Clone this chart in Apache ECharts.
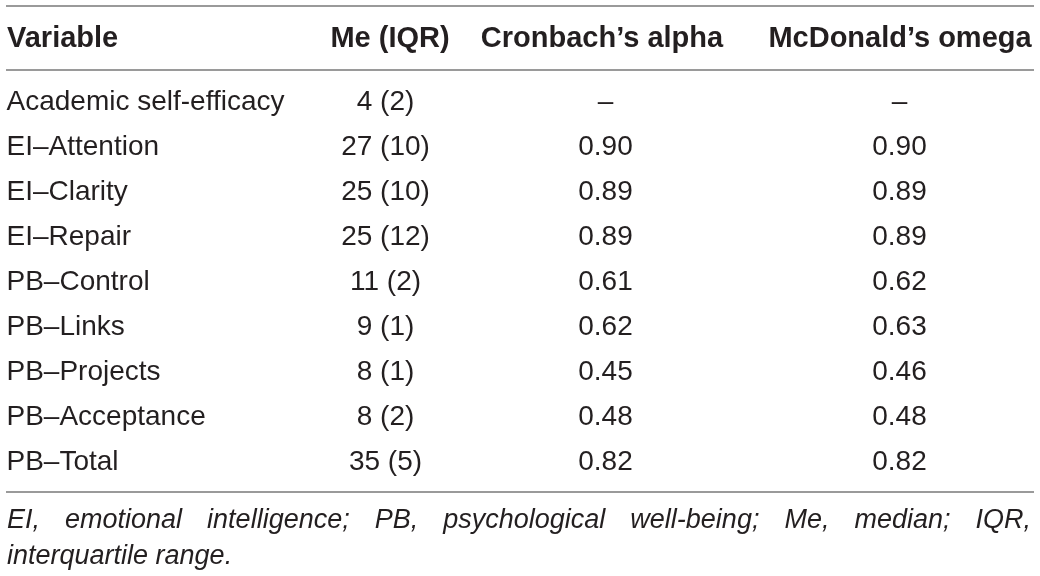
<!DOCTYPE html>
<html>
<head>
<meta charset="utf-8">
<script src="https://cdn.jsdelivr.net/npm/echarts@6/dist/echarts.min.js"></script>
<style>
  html, body { margin: 0; padding: 0; background: #fff; }
  #main { width: 1040px; height: 576px; }
</style>
</head>
<body>
<div id="main"></div>
<script>
// table content
const variables = ['Academic self-efficacy', 'EI\u2013Attention', 'EI\u2013Clarity', 'EI\u2013Repair',
  'PB\u2013Control', 'PB\u2013Links', 'PB\u2013Projects', 'PB\u2013Acceptance', 'PB\u2013Total'];
const medians = [4, 27, 25, 25, 11, 9, 8, 8, 35];
const iqrs = [2, 10, 10, 12, 2, 1, 1, 2, 5];
const alphas = [null, 0.90, 0.89, 0.89, 0.61, 0.62, 0.45, 0.48, 0.82];
const omegas = [null, 0.90, 0.89, 0.89, 0.62, 0.63, 0.46, 0.48, 0.82];
const headers = ['Variable', 'Me (IQR)', 'Cronbach\u2019s alpha', 'McDonald\u2019s omega'];
const footLine1 = 'EI, emotional intelligence; PB, psychological well-being; Me, median; IQR,';
const footLine2 = 'interquartile range.';

const FONT = '"Liberation Sans", Arial, sans-serif';
const FS = 28;
const INK = '#231f20';
const RULE = '#9a9a9a';

// column anchors (x in pixels of the 0..1040 axis)
const colVar = 7, colMe = 386, colAlpha = 606, colOmega = 900;
const headX = [7, 390, 602, 900];
const headAlign = ['left', 'center', 'center', 'center'];

const chart = echarts.init(document.getElementById('main'));

function fmt(v) { return v == null ? '\u2013' : v.toFixed(2); }

function textSeries(x, texts, align) {
  return {
    type: 'scatter',
    symbolSize: 1,
    itemStyle: { color: 'rgba(0,0,0,0)', opacity: 1 },
    silent: true,
    data: texts.map((t, i) => ({ value: [x, variables[i]], txt: t })),
    label: {
      show: true,
      position: [0, 0],
      align: align,
      verticalAlign: 'middle',
      color: INK,
      opacity: 1,
      textBorderWidth: 0,
      fontFamily: FONT,
      fontSize: FS,
      formatter: p => p.data.txt
    }
  };
}

// justify the first footnote line across the table width
const measure = document.createElement('canvas').getContext('2d');
const footFont = 'italic 27px ' + FONT;
measure.font = footFont;
const words = footLine1.split(' ');
const widths = words.map(w => measure.measureText(w).width);
const left = 7, right = 1031;
const gap = (right - left - widths.reduce((a, b) => a + b, 0)) / (words.length - 1);
const footGraphics = [];
let cx = left;
words.forEach((w, i) => {
  footGraphics.push({ type: 'text', x: cx, y: 520, style: { text: w, font: footFont, fill: INK, verticalAlign: 'middle' } });
  cx += widths[i] + gap;
});
footGraphics.push({ type: 'text', x: left, y: 556, style: { text: footLine2, font: footFont, fill: INK, verticalAlign: 'middle' } });

const option = {
  animation: false,
  grid: { left: 0, right: 0, top: 80.5, bottom: 576 - 485.5 },
  xAxis: { type: 'value', min: 0, max: 1040, show: false },
  yAxis: { type: 'category', data: variables, inverse: true, show: false },
  series: [
    textSeries(colVar, variables, 'left'),
    textSeries(colMe, medians.map((m, i) => m + ' (' + iqrs[i] + ')'), 'center'),
    textSeries(colAlpha, alphas.map(fmt), 'center'),
    textSeries(colOmega, omegas.map(fmt), 'center')
  ],
  graphic: [
    { type: 'line', shape: { x1: 6, y1: 6, x2: 1034, y2: 6 }, style: { stroke: RULE, lineWidth: 2 } },
    { type: 'line', shape: { x1: 6, y1: 70, x2: 1034, y2: 70 }, style: { stroke: RULE, lineWidth: 2 } },
    { type: 'line', shape: { x1: 6, y1: 492, x2: 1034, y2: 492 }, style: { stroke: RULE, lineWidth: 2 } }
  ].concat(headers.map((h, i) => ({
    type: 'text', x: headX[i], y: 39,
    style: { text: h, font: 'bold 29px ' + FONT, fill: INK, align: headAlign[i], verticalAlign: 'middle' }
  }))).concat(footGraphics)
};

chart.setOption(option);
</script>
</body>
</html>
